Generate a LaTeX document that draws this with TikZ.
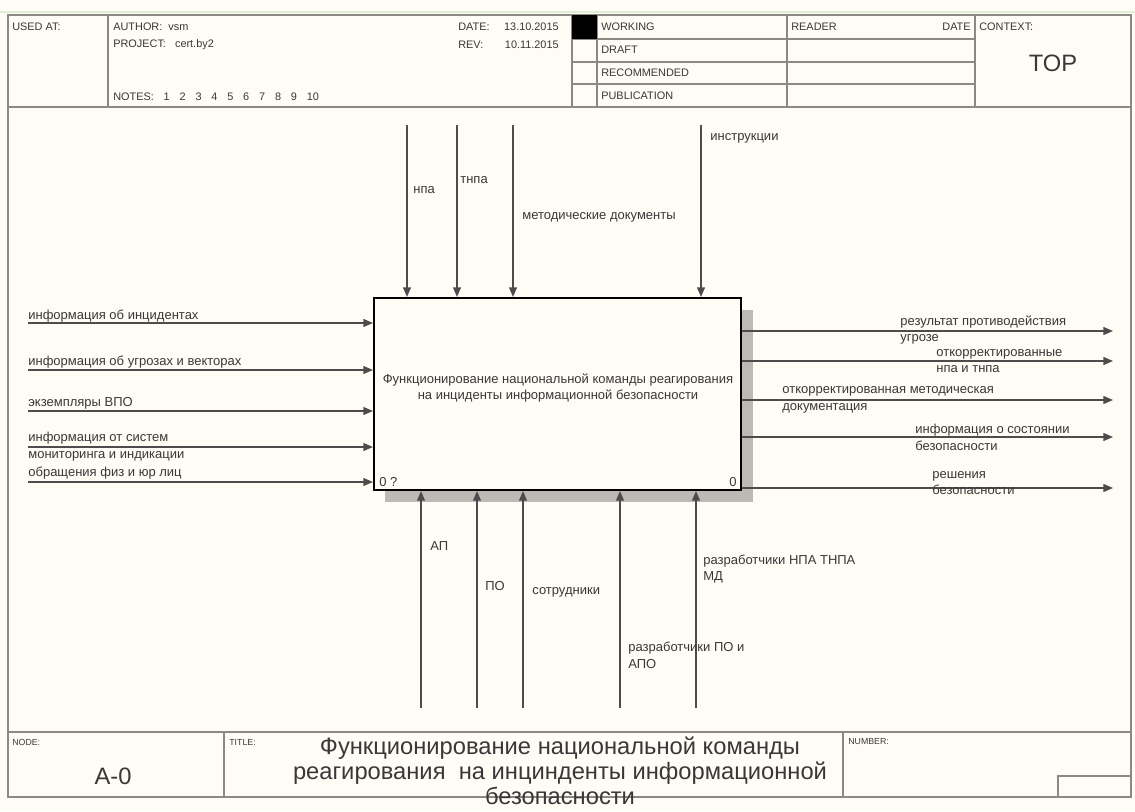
\documentclass[tikz,border=0pt]{standalone}
\usepackage{fontspec}
\setmainfont{Liberation Sans}
\usetikzlibrary{arrows.meta,calc,positioning}
\definecolor{kagitRengi}{HTML}{FFFCF6}
\definecolor{cerceveGri}{HTML}{8C8884}
\definecolor{okGri}{HTML}{4C4C4C}
\definecolor{yaziGri}{HTML}{383838}
\definecolor{golgeGri}{HTML}{BDB9B5}
\definecolor{ustYesil}{HTML}{DDEFD9}
\newcommand{\kucuk}{\fontsize{6.2pt}{7pt}\selectfont}
\newcommand{\orta}{\fontsize{7.4pt}{9.6pt}\selectfont}
\newcommand{\buyuk}{\fontsize{13.5pt}{14.4pt}\selectfont}
\newcommand{\nb}{\hspace{5.6pt}}

\begin{document}
\begin{tikzpicture}[x=0.02cm,y=-0.02cm,
  ok/.style={okGri,line width=0.8pt,-{Triangle[length=5.5pt,width=4.5pt]}},
  etiket/.style={yaziGri,inner sep=0pt,anchor=west,align=left,font=\orta},
  form/.style={yaziGri,inner sep=0pt,anchor=west,font=\kucuk}]
\useasboundingbox (0,0) rectangle (1135,811);
\fill[kagitRengi] (0,0) rectangle (1135,811);
\draw[ustYesil,line width=1.5pt] (0,12)--(1135,12);
% form frame
\draw[cerceveGri,line width=1.1pt] (8,15) rectangle (1131,797);
\draw[cerceveGri,line width=1.1pt] (8,107)--(1131,107);
\draw[cerceveGri,line width=1.1pt] (8,732)--(1131,732);
\draw[cerceveGri,line width=0.9pt] (108,15)--(108,107);
\draw[cerceveGri,line width=0.9pt] (572,15)--(572,107);
\draw[cerceveGri,line width=0.9pt] (597,15)--(597,107);
\draw[cerceveGri,line width=0.9pt] (787,15)--(787,107);
\draw[cerceveGri,line width=0.9pt] (975,15)--(975,107);
\draw[cerceveGri,line width=0.9pt] (572,39)--(975,39);
\draw[cerceveGri,line width=0.9pt] (572,62)--(975,62);
\draw[cerceveGri,line width=0.9pt] (572,84)--(975,84);
\fill[black] (572,15) rectangle (597,39);
\draw[cerceveGri,line width=0.9pt] (224,732)--(224,797);
\draw[cerceveGri,line width=0.9pt] (843,732)--(843,797);
\draw[cerceveGri,line width=0.9pt] (1058,797)--(1058,776)--(1131,776);
% header texts
\node[form] (usedAt) at (12,27) {USED AT:};
\node[form] (author) at (113,27) {AUTHOR:\ \ vsm};
\node[form] (project) at (113,45) {PROJECT:\ \ \ cert.by2};
\node[form] (notes) at (113,97) {NOTES:\nb 1\nb 2\nb 3\nb 4\nb 5\nb 6\nb 7\nb 8\nb 9\nb 10};
\node[form] (dateLbl) at (458,27) {DATE:};
\node[form,anchor=east] (dateVal) at (559,27) {13.10.2015};
\node[form] (revLbl) at (458,45) {REV:};
\node[form,anchor=east] (revVal) at (559,45) {10.11.2015};
\node[form] (working) at (601,27) {WORKING};
\node[form] (draft) at (601,50) {DRAFT};
\node[form] (recommended) at (601,73) {RECOMMENDED};
\node[form] (publication) at (601,96) {PUBLICATION};
\node[form] (reader) at (791,27) {READER};
\node[form,anchor=east] (readerDate) at (971,27) {DATE};
\node[form] (context) at (979,27) {CONTEXT:};
\node[yaziGri,inner sep=0pt,font=\buyuk] (top) at (1053,63) {TOP};
\node[form,font=\fontsize{5pt}{6pt}\selectfont] (nodeLbl) at (12,742) {NODE:};
\node[form,font=\fontsize{5pt}{6pt}\selectfont] (titleLbl) at (229,742) {TITLE:};
\node[form,font=\fontsize{5pt}{6pt}\selectfont] (numberLbl) at (848,742) {NUMBER:};
\node[yaziGri,inner sep=0pt,font=\buyuk] (nodeNo) at (113,776) {A-0};
\node[yaziGri,inner sep=0pt,font=\buyuk,align=center] (title) at (560,771)
  {Функционирование национальной команды\\реагирования\ \ на инцинденты информационной\\безопасности};
% function box with shadow
\fill[golgeGri] (385,310) rectangle (753,502);
\node[draw=black,line width=1.2pt,fill=kagitRengi,minimum width=7.34cm,minimum height=3.84cm,inner sep=0pt] (func) at (557.5,394) {};
\node[yaziGri,inner sep=0pt,align=center,font=\orta] (funcLbl) at (558,388)
  {Функционирование национальной команды реагирования\\на инциденты информационной безопасности};
\node[etiket,anchor=west] (funcNo) at (379,482) {0 ?};
\node[etiket,anchor=east] (funcNo2) at (737,482) {0};
% inputs
\coordinate (g1) at (28,323);
\coordinate (g2) at (28,370);
\coordinate (g3) at (28,411);
\coordinate (g4) at (28,447);
\coordinate (g5) at (28,482);
\draw[ok] (g1) -- (g1 -| func.west);
\draw[ok] (g2) -- (g2 -| func.west);
\draw[ok] (g3) -- (g3 -| func.west);
\draw[ok] (g4) -- (g4 -| func.west);
\draw[ok] (g5) -- (g5 -| func.west);
\node[etiket] (g1Lbl) at (28,316) {информация об инцидентах};
\node[etiket] (g2Lbl) at (28,362) {информация об угрозах и векторах};
\node[etiket] (g3Lbl) at (28,403) {экземпляры ВПО};
\node[etiket] (g4Lbl) at (28,447) {информация от систем\\мониторинга и индикации};
\node[etiket] (g5Lbl) at (28,473) {обращения физ и юр лиц};
% controls
\coordinate (k1) at (407,125);
\coordinate (k2) at (457,125);
\coordinate (k3) at (513,125);
\coordinate (k4) at (701,125);
\draw[ok] (k1) -- (k1 |- func.north);
\draw[ok] (k2) -- (k2 |- func.north);
\draw[ok] (k3) -- (k3 |- func.north);
\draw[ok] (k4) -- (k4 |- func.north);
\node[etiket] (k1Lbl) at (413,190) {нпа};
\node[etiket] (k2Lbl) at (460,180) {тнпа};
\node[etiket] (k3Lbl) at (522,217) {методические документы};
\node[etiket] (k4Lbl) at (710,138) {инструкции};
% outputs
\coordinate (c1) at (1113,331);
\coordinate (c2) at (1113,361);
\coordinate (c3) at (1113,400);
\coordinate (c4) at (1113,437);
\coordinate (c5) at (1113,488);
\draw[ok] (c1 -| func.east) -- (c1);
\draw[ok] (c2 -| func.east) -- (c2);
\draw[ok] (c3 -| func.east) -- (c3);
\draw[ok] (c4 -| func.east) -- (c4);
\draw[ok] (c5 -| func.east) -- (c5);
\node[etiket] (c1Lbl) at (900,330) {результат противодействия\\угрозе};
\node[etiket] (c2Lbl) at (936,361) {откорректированные\\нпа и тнпа};
\node[etiket] (c3Lbl) at (782,400) {откорректированная методическая\\документация};
\node[etiket] (c4Lbl) at (915,437) {информация о состоянии\\безопасности};
\node[etiket] (c5Lbl) at (932,483) {решения\\безопасности};
% mechanisms
\coordinate (m1) at (421,708);
\coordinate (m2) at (477,708);
\coordinate (m3) at (523,708);
\coordinate (m4) at (620,708);
\coordinate (m5) at (696,708);
\draw[ok] (m1) -- (m1 |- func.south);
\draw[ok] (m2) -- (m2 |- func.south);
\draw[ok] (m3) -- (m3 |- func.south);
\draw[ok] (m4) -- (m4 |- func.south);
\draw[ok] (m5) -- (m5 |- func.south);
\node[etiket] (m1Lbl) at (430,546) {АП};
\node[etiket] (m2Lbl) at (485,586) {ПО};
\node[etiket] (m3Lbl) at (532,592) {сотрудники};
\node[etiket] (m4Lbl) at (628,655) {разработчики ПО и\\АПО};
\node[etiket] (m5Lbl) at (703,569) {разработчики НПА ТНПА\\МД};
\end{tikzpicture}
\end{document}
